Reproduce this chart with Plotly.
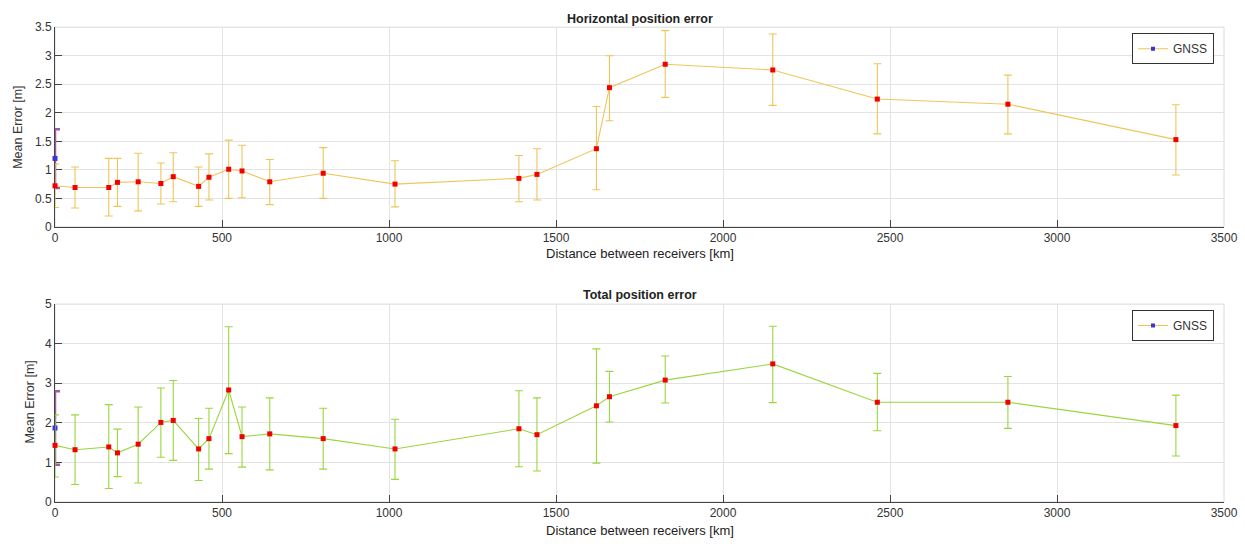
import plotly.graph_objects as go

# ---------------- data ----------------
distance_km = [0, 60, 161, 187, 249, 317, 354, 430, 461, 520, 560, 643, 803, 1018,
               1389, 1443, 1621, 1660, 1827, 2149, 2462, 2853, 3356]

horiz_mean = [0.72, 0.69, 0.69, 0.78, 0.79, 0.76, 0.88, 0.71, 0.87, 1.01, 0.98, 0.79, 0.94, 0.75,
              0.85, 0.92, 1.37, 2.44, 2.85, 2.75, 2.24, 2.15, 1.53]
horiz_upper = [1.10, 1.05, 1.20, 1.20, 1.29, 1.12, 1.30, 1.05, 1.28, 1.52, 1.43, 1.18, 1.39, 1.16,
               1.25, 1.37, 2.11, 3.00, 3.44, 3.38, 2.86, 2.66, 2.14]
horiz_lower = [0.34, 0.33, 0.19, 0.36, 0.28, 0.40, 0.44, 0.36, 0.47, 0.50, 0.51, 0.39, 0.50, 0.35,
               0.44, 0.47, 0.65, 1.86, 2.27, 2.13, 1.63, 1.63, 0.91]

total_mean = [1.43, 1.32, 1.39, 1.24, 1.46, 2.01, 2.06, 1.34, 1.60, 2.83, 1.65, 1.72, 1.60, 1.34,
              1.85, 1.70, 2.43, 2.66, 3.08, 3.49, 2.52, 2.52, 1.93]
total_upper = [2.20, 2.20, 2.46, 1.84, 2.40, 2.88, 3.07, 2.11, 2.37, 4.43, 2.40, 2.63, 2.37, 2.09,
               2.81, 2.63, 3.87, 3.30, 3.69, 4.44, 3.25, 3.17, 2.70]
total_lower = [0.63, 0.44, 0.34, 0.64, 0.48, 1.13, 1.05, 0.54, 0.83, 1.22, 0.88, 0.81, 0.83, 0.57,
               0.89, 0.78, 0.98, 2.02, 2.50, 2.51, 1.80, 1.86, 1.16]

gnss_x = [0]
gnss_horiz = [1.20]
gnss_horiz_upper = [1.71]
gnss_horiz_lower = [0.68]
gnss_total = [1.87]
gnss_total_upper = [2.80]
gnss_total_lower = [0.94]

x_ticks = [0, 500, 1000, 1500, 2000, 2500, 3000, 3500]
y1_ticks = [0, 0.5, 1, 1.5, 2, 2.5, 3, 3.5]
y2_ticks = [0, 1, 2, 3, 4, 5]

# ---------------- styles ----------------
W, H = 1245, 544
L, R = 55, 21
FONT = "Liberation Sans, Arial, Helvetica, sans-serif"
TXT = "#333333"
YELLOW = "#EEC558"
GREEN = "#9AD63C"
PURPLE = "#A05AAA"
BLUE = "#3838D0"
RED = "#F00000"
GRID = "#E3E3E3"


def py(px):  # pixel row -> paper y
    return (H - px) / H


def pxx(px):  # pixel column -> paper x
    return (px - L) / (W - L - R)


def diffs(a, b):
    return [abs(u - v) for u, v in zip(a, b)]


fig = go.Figure()

panels = [
    ("x", "y", "legend", horiz_mean, horiz_upper, horiz_lower,
     gnss_horiz, gnss_horiz_upper, gnss_horiz_lower, YELLOW),
    ("x2", "y2", "legend2", total_mean, total_upper, total_lower,
     gnss_total, gnss_total_upper, gnss_total_lower, GREEN),
]

for xa, ya, lg, m, up, lo, gm, gup, glo, col in panels:
    # GNSS reference point (drawn first)
    fig.add_trace(go.Scatter(
        x=gnss_x, y=gm, xaxis=xa, yaxis=ya, mode="markers", showlegend=False,
        marker=dict(symbol="square", size=5, color=BLUE),
        error_y=dict(type="data", symmetric=False,
                     array=diffs(gup, gm), arrayminus=diffs(gm, glo),
                     color=PURPLE, thickness=2.5, width=5),
        cliponaxis=False, hoverinfo="skip"))
    # main series
    fig.add_trace(go.Scatter(
        x=distance_km, y=m, xaxis=xa, yaxis=ya, mode="lines+markers", showlegend=False,
        line=dict(color=col, width=1.1),
        marker=dict(symbol="square", size=5, color=RED),
        error_y=dict(type="data", symmetric=False,
                     array=diffs(up, m), arrayminus=diffs(m, lo),
                     color=col, thickness=1.1, width=4),
        cliponaxis=False))
    # legend entry
    fig.add_trace(go.Scatter(
        x=[None], y=[None], xaxis=xa, yaxis=ya, mode="lines+markers", name="GNSS",
        legend=lg, line=dict(color=YELLOW, width=1.1),
        marker=dict(symbol="square", size=4, color=BLUE)))

axis_common = dict(
    showgrid=True, gridcolor=GRID, gridwidth=1, zeroline=False,
    showline=True, linecolor="#444444", linewidth=1,
    ticks="inside", ticklen=7, tickcolor="#444444", tickwidth=1,
    tickfont=dict(family=FONT, size=12, color=TXT),
    layer="below traces",
)

legend_common = dict(
    xanchor="right", yanchor="top", bgcolor="white", bordercolor="#333333",
    borderwidth=1, font=dict(family=FONT, size=12, color=TXT), itemwidth=30,
    tracegroupgap=0,
)

fig.update_layout(
    width=W, height=H,
    margin=dict(l=L, r=R, t=0, b=0),
    paper_bgcolor="white", plot_bgcolor="white",
    font=dict(family=FONT, color=TXT),
    xaxis=dict(domain=[0, 1], range=[0, 3500], tickvals=x_ticks, anchor="y", **axis_common),
    yaxis=dict(domain=[py(225.7), py(20.7)], range=[0, 3.5], tickvals=y1_ticks,
               anchor="x", **axis_common),
    xaxis2=dict(domain=[0, 1], range=[0, 3500], tickvals=x_ticks, anchor="y2", **axis_common),
    yaxis2=dict(domain=[py(508), py(305)], range=[0, 5], tickvals=y2_ticks,
                anchor="x2", **axis_common),
    legend=dict(x=pxx(1214), y=py(27), **legend_common),
    legend2=dict(x=pxx(1214), y=py(311), **legend_common),
    showlegend=True,
)

# light box on top/right like MATLAB
for xa, ya in (("x", "y"), ("x2", "y2")):
    fig.add_shape(type="rect", xref=f"{xa} domain", yref=f"{ya} domain",
                  x0=0, x1=1, y0=0, y1=1, line=dict(color="#DADADA", width=1),
                  layer="below")

annots = [
    dict(text="<b>Horizontal position error</b>", x=0.5, y=py(12), size=12.5),
    dict(text="<b>Total position error</b>", x=0.5, y=py(296), size=12.5),
    dict(text="Distance between receivers [km]", x=0.5, y=py(253), size=13),
    dict(text="Distance between receivers [km]", x=0.5, y=py(537), size=13),
]
for a in annots:
    fig.add_annotation(text=a["text"], x=a["x"], y=a["y"], xref="paper", yref="paper",
                       xanchor="center", yanchor="middle", showarrow=False,
                       font=dict(family=FONT, size=a["size"], color="#222222"))

for xc, yc in ((18, 124), (30, 406)):
    fig.add_annotation(text="Mean Error [m]", x=pxx(xc), y=py(yc), xref="paper", yref="paper",
                       xanchor="center", yanchor="middle", showarrow=False, textangle=-90,
                       font=dict(family=FONT, size=12.5, color=TXT))

fig.write_html("out.html")
